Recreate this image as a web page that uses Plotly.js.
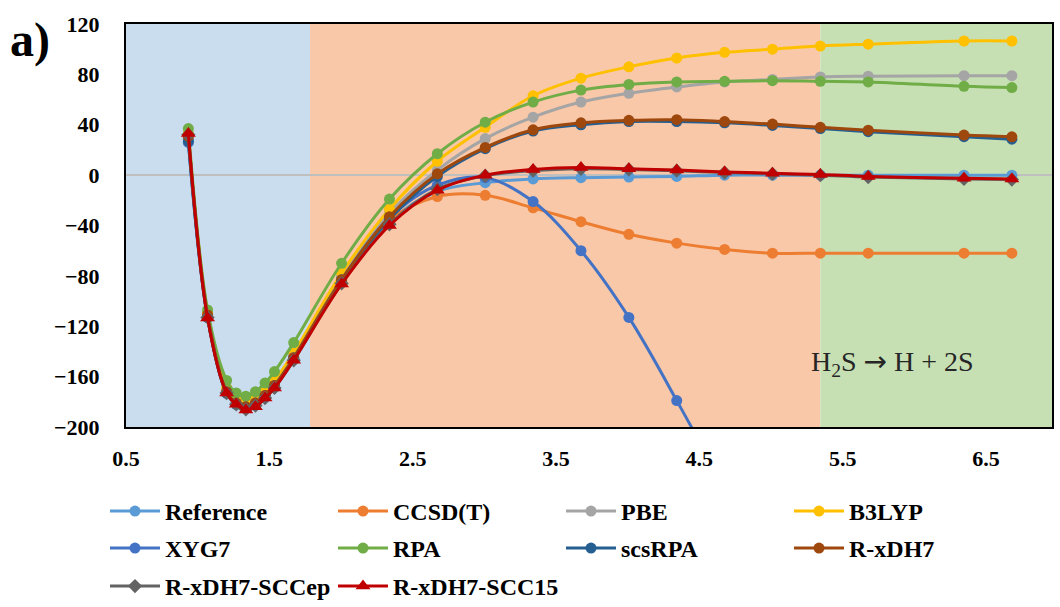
<!DOCTYPE html>
<html>
<head>
<meta charset="utf-8">
<script src="https://cdn.plot.ly/plotly-3.0.1.min.js"></script>
<style>html,body{margin:0;padding:0;background:#fff;}#chart{width:1060px;height:607px;}</style>
</head>
<body>
<div id="chart"></div>
<script>
// Bond distance (Å)
const xDist = [0.935, 1.069, 1.202, 1.269, 1.336, 1.403, 1.470, 1.536, 1.670, 2.004, 2.338, 2.672, 3.006, 3.340, 3.674, 4.008, 4.342, 4.676, 5.010, 5.344, 5.678, 6.346, 6.680];

const seriesNames = ["Reference", "CCSD(T)", "PBE", "B3LYP", "XYG7", "RPA", "scsRPA", "R-xDH7", "R-xDH7-SCCep", "R-xDH7-SCC15"];

const reference = [29, -112, -173, -181, -184, -182, -176, -168, -146, -85, -37, -13, -6, -3, -2, -1.5, -1, 0, 0, 0, 0, 0, 0];
const ccsdt     = [30, -111, -172, -180, -183, -181, -175, -167, -145, -84, -36, -17, -16, -26, -37, -47, -54, -59, -62, -62, -62, -62, -62];
const pbe       = [33, -110, -170, -179, -182, -179, -173, -165, -143, -80, -30, 4, 29, 46, 58, 65, 70, 74, 76, 78, 78.5, 79, 79];
const b3lyp     = [33, -109, -169, -178, -181, -178, -172, -163, -141, -78, -27, 11, 38, 63, 77, 86, 93, 97.5, 100, 102.5, 104, 106.5, 106.5];
const xyg7      = [26, -113, -173, -181, -184, -181, -175, -167, -145, -83, -34, -8, -2, -21, -60, -113, -179, -250, -335, null, null, null, null];
const rpa       = [37, -107, -163, -173, -175.5, -172, -165, -156, -133, -70, -19, 17, 42, 58, 67.5, 72, 74, 74.5, 75, 74.5, 74, 70.5, 69.5];
const scsrpa    = [27, -113, -173, -182, -185, -182, -176, -168, -146, -84, -35, -1, 21, 35, 40, 42.5, 42.5, 41.5, 39.5, 37, 34.5, 30.5, 28.5];
const rxdh7     = [31, -111, -172, -181, -184, -181, -175, -167, -145, -83, -33, 1, 22, 36, 41.5, 43.5, 44, 42.5, 40.5, 38, 35.7, 31.8, 30.4];
const sccep     = [32, -113, -173, -182, -186, -183, -177, -169, -147, -86, -39, -11, -0.5, 3.5, 5, 4.5, 3.5, 2, 1, 0, -1.5, -3, -3.5];
const scc15     = [33, -113.5, -173, -182, -186.5, -184, -177, -169, -147, -86.5, -40, -12, 0, 4.5, 6, 5, 4, 2.5, 1.5, 0.5, -1, -2.5, -3];

const yTicks = [-200, -160, -120, -80, -40, 0, 40, 80, 120];
const xTicks = [0.5, 1.5, 2.5, 3.5, 4.5, 5.5, 6.5];

// region boundaries (x)
const regionEdges = [0.5, 1.784, 5.344, 6.96];

const allY = [reference, ccsdt, pbe, b3lyp, xyg7, rpa, scsrpa, rxdh7, sccep, scc15];
const colors = ["#5B9BD5", "#ED7D31", "#A5A5A5", "#FFC000", "#4472C4", "#70AD47", "#255E91", "#9E480E", "#636363", "#C00000"];
const symbols = ["circle","circle","circle","circle","circle","circle","circle","circle","diamond","triangle-up"];
const legendOf = ["legend","legend","legend","legend","legend2","legend2","legend2","legend2","legend3","legend3"];

const traces = allY.map((ys, i) => ({
  type: 'scatter',
  mode: 'lines+markers',
  name: seriesNames[i],
  legend: legendOf[i],
  x: xDist,
  y: ys,
  line: {color: colors[i], width: 3, shape: 'spline', smoothing: 1},
  marker: {color: colors[i], size: symbols[i] === 'triangle-up' ? 13 : 11, symbol: symbols[i]},
  connectgaps: false
}));

const regionColors = ["#CADDEF", "#F8C8A9", "#C6E0B4"];
const shapes = regionColors.map((c, i) => ({
  type: 'rect', xref: 'x', yref: 'paper',
  x0: regionEdges[i], x1: regionEdges[i+1], y0: 0, y1: 1,
  fillcolor: c, line: {width: 0}, layer: 'below'
}));

const serif = 'Liberation Serif, Times New Roman, serif';
const tickFont = {family: serif, size: 22, color: '#000', weight: 700};

function legendAt(topPx) {
  return {
    orientation: 'h', xref: 'container', yref: 'container',
    x: 105/1060, xanchor: 'left', y: 1 - topPx/607, yanchor: 'top',
    font: {family: serif, size: 24, color: '#000', weight: 700},
    itemwidth: 50, entrywidth: 163, entrywidthmode: 'pixels',
    traceorder: 'normal', bgcolor: 'rgba(0,0,0,0)'
  };
}

const layout = {
  width: 1060, height: 607,
  margin: {l: 126, r: 8, t: 24, b: 180},
  paper_bgcolor: '#fff',
  plot_bgcolor: '#fff',
  showlegend: true,
  xaxis: {
    range: [0.5, 6.96], tickvals: xTicks, ticktext: xTicks.map(v => v.toFixed(1)),
    showgrid: false, zeroline: false,
    showline: true, linecolor: '#000', linewidth: 2, mirror: true,
    ticks: 'outside', ticklen: 11, tickcolor: 'rgba(0,0,0,0)',
    tickfont: tickFont
  },
  yaxis: {
    range: [-200, 120], tickvals: yTicks,
    showgrid: false, zeroline: true, zerolinecolor: '#BFBFBF', zerolinewidth: 1.5,
    showline: true, linecolor: '#000', linewidth: 2, mirror: true,
    ticks: 'outside', ticklen: 20, tickcolor: 'rgba(0,0,0,0)',
    tickfont: tickFont
  },
  legend: legendAt(489),
  legend2: legendAt(526),
  legend3: legendAt(564),
  shapes: shapes,
  annotations: [
    {text: 'a)', xref: 'paper', yref: 'paper', x: -0.127, y: 0.96, xanchor: 'left', yanchor: 'middle',
     showarrow: false, font: {family: serif, size: 48, color: '#000', weight: 700}},
    {text: 'H<sub>2</sub>S <span style="font-family:DejaVu Sans">→</span> H + 2S', xref: 'x', yref: 'y', x: 5.266, y: -149, xanchor: 'left', yanchor: 'middle',
     showarrow: false, font: {family: serif, size: 28, color: '#262626'}}
  ]
};

Plotly.newPlot('chart', traces, layout, {displayModeBar: false, staticPlot: true});
</script>
</body>
</html>
